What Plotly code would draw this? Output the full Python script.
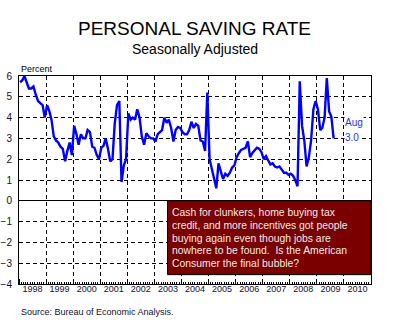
import pandas as pd
import plotly.graph_objects as go

# Monthly personal saving rate, percent (seasonally adjusted), Jan 1998 - Aug 2009
rate_1998 = [5.7, 5.8, 6.0, 5.7, 5.4, 5.4, 5.5, 5.1, 4.8, 4.7, 4.6, 4.0]
rate_1999 = [4.6, 4.3, 3.9, 3.1, 2.9, 2.8, 2.6, 2.5, 1.9, 2.4, 2.8, 2.2]
rate_2000 = [3.6, 3.2, 2.7, 3.2, 3.0, 3.0, 3.4, 3.3, 2.6, 2.55, 2.2, 2.0]
rate_2001 = [2.55, 2.65, 3.0, 2.5, 1.9, 2.0, 3.7, 4.6, 4.8, 0.9, 1.7, 2.0]
rate_2002 = [4.2, 3.9, 4.0, 3.9, 4.4, 4.0, 3.1, 2.7, 3.25, 3.1, 3.0, 3.0]
rate_2003 = [2.85, 3.2, 3.3, 3.4, 4.0, 3.75, 3.9, 3.5, 2.85, 3.4, 3.55, 3.5]
rate_2004 = [3.3, 3.2, 3.2, 3.4, 3.8, 3.5, 3.7, 3.6, 2.9, 2.85, 2.4, 5.2]
rate_2005 = [2.0, 1.55, 1.2, 0.6, 1.8, 1.4, 1.05, 1.3, 1.2, 1.35, 1.6, 1.7]
rate_2006 = [2.1, 2.3, 2.45, 2.5, 2.55, 2.85, 2.1, 2.3, 2.45, 2.55, 2.5, 2.35]
rate_2007 = [2.0, 2.15, 1.95, 1.75, 1.8, 1.65, 1.6, 1.65, 1.5, 1.35, 1.35, 1.25]
rate_2008 = [1.3, 1.2, 1.0, 0.7, 5.75, 3.6, 2.9, 1.65, 2.1, 2.9, 4.4, 4.8]
rate_2009 = [4.4, 3.4, 3.5, 4.0, 5.9, 4.3, 4.05, 3.0]

saving_rate = (rate_1998 + rate_1999 + rate_2000 + rate_2001 + rate_2002 + rate_2003
               + rate_2004 + rate_2005 + rate_2006 + rate_2007 + rate_2008 + rate_2009)
months = pd.date_range("1998-01-01", periods=len(saving_rate), freq="MS") + pd.Timedelta(days=14)

last_label = "Aug"
last_value = saving_rate[-1]

note_lines = [
    "Cash for clunkers, home buying tax",
    "credit, and more incentives got people",
    "buying again even though jobs are",
    "nowhere to be found.  Is the American",
    "Consumer the final bubble?",
]

FONT = "Arial, Liberation Sans, sans-serif"
W, H = 394, 326
L, R, T, B = 19, 23, 76, 42
plot_w = W - L - R
plot_h = H - T - B


def px_x(x):
    # page pixel column -> paper fraction
    return (x - L) / plot_w


def px_y(y):
    # page pixel row -> paper fraction
    return 1 + (T - y) / plot_h


fig = go.Figure()
fig.add_trace(go.Scatter(
    x=months, y=saving_rate, mode="lines",
    line=dict(color="#0000ff", width=2.4),
    hoverinfo="skip", showlegend=False,
))

fig.update_layout(
    width=W, height=H,
    margin=dict(l=L, r=R, t=T, b=B, pad=0, autoexpand=False),
    paper_bgcolor="white", plot_bgcolor="white",
    font=dict(family=FONT, color="#000000"),
    showlegend=False,
)

fig.update_xaxes(
    type="date", automargin=False,
    range=["1998-01-01", "2011-01-01"],
    tick0="1998-01-01", dtick="M12", tickformat="%Y",
    ticklabelmode="period", ticklabelposition="outside", ticklabelstandoff=-4,
    ticks="inside", ticklen=5, tickcolor="black", tickwidth=1,
    minor=dict(dtick="M1", ticks="inside", ticklen=2, tickcolor="black", showgrid=False),
    showgrid=True, gridcolor="black", gridwidth=1, griddash="4px,3px",
    showline=True, linecolor="black", linewidth=1, mirror=True,
    tickfont=dict(size=9, color="#101030"),
    zeroline=False,
)

fig.update_yaxes(
    automargin=False,
    range=[-4, 6], dtick=1, tick0=0,
    ticks="outside", ticklen=4, tickcolor="rgba(0,0,0,0)",
    ticklabelposition="outside", ticklabelstandoff=0,
    showgrid=True, gridcolor="black", gridwidth=1, griddash="4px,3px",
    zeroline=True, zerolinecolor="black", zerolinewidth=1,
    showline=True, linecolor="black", linewidth=1, mirror=True,
    tickfont=dict(size=10, color="#101030"),
)

# heading and sub-heading, stacked either side of one baseline row
fig.add_annotation(
    text="PERSONAL SAVING RATE", xref="paper", yref="paper",
    x=px_x(194), y=px_y(39.5), xanchor="center", yanchor="bottom",
    showarrow=False, borderpad=0,
    font=dict(size=19, family=FONT, color="black"),
)
fig.add_annotation(
    text="Seasonally Adjusted", xref="paper", yref="paper",
    x=px_x(195), y=px_y(39.5), xanchor="center", yanchor="top",
    showarrow=False, borderpad=0,
    font=dict(size=14, family=FONT, color="black"),
)

fig.add_annotation(
    text="Percent", xref="paper", yref="paper", x=0, y=px_y(69),
    xanchor="left", yanchor="middle", showarrow=False,
    font=dict(size=9, family=FONT, color="black"),
)

fig.add_annotation(
    text="Source: Bureau of Economic Analysis.", xref="paper", yref="paper",
    x=0, y=px_y(311.5), xanchor="left", yanchor="middle",
    showarrow=False, font=dict(size=9, family=FONT, color="#101030"),
)

# latest reading, labelled beside the end of the line
fig.add_annotation(
    text=last_label, xref="paper", yref="y", x=px_x(343.5),
    y=last_value + 0.75, xanchor="left", yanchor="middle", showarrow=False,
    bgcolor="white", borderpad=0,
    font=dict(size=10, family=FONT, color="#3030ff"),
)
fig.add_annotation(
    text=f"{last_value:.1f}", xref="paper", yref="y", x=px_x(343.5),
    y=last_value + 0.05, xanchor="left", yanchor="middle", showarrow=False,
    bgcolor="white", borderpad=0,
    font=dict(size=10, family=FONT, color="#3030ff"),
)

# commentary box in the lower right of the plot
fig.add_shape(
    type="rect", xref="paper", yref="y",
    x0=px_x(167.5), x1=1, y0=-3.55, y1=0,
    fillcolor="#7a0000", line=dict(color="black", width=1), layer="above",
)
for i, line in enumerate(note_lines):
    fig.add_annotation(
        text=line, xref="paper", yref="paper",
        x=px_x(170.5), y=px_y(212.7 + 12.65 * i),
        xanchor="left", yanchor="middle", showarrow=False, borderpad=0,
        font=dict(size=10.4, family=FONT, color="#f4eaea"),
    )

fig.write_html("out.html")
